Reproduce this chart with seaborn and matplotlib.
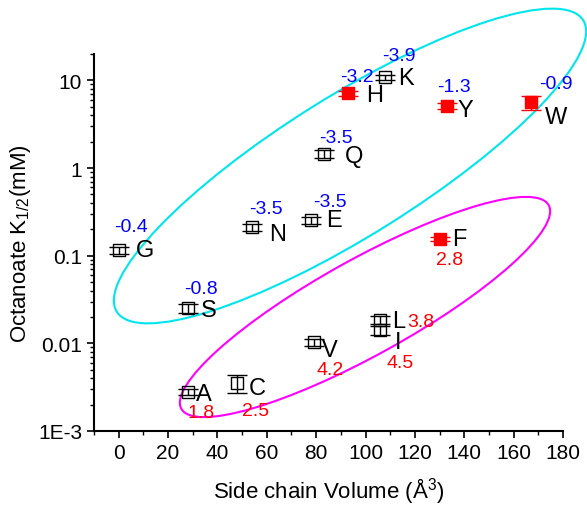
import numpy as np
import pandas as pd
import seaborn as sns
import matplotlib.pyplot as plt
import matplotlib.transforms as mtransforms
from matplotlib.patches import Ellipse
from matplotlib.ticker import MultipleLocator, LogLocator, NullFormatter

# amino acid side chains: volume vs octanoate K1/2, with hydropathy index
residues = ['G', 'A', 'S', 'C', 'N', 'E', 'Q', 'V', 'H', 'K', 'L', 'I', 'F', 'Y', 'W']
volume = [0, 28, 28, 48, 54, 78, 83, 79, 93, 108, 106, 106, 130, 133, 167]
k_half = [0.115, 0.0028, 0.025, 0.0035, 0.21, 0.255, 1.45, 0.0103, 7.1, 10.8,
          0.0185, 0.0142, 0.155, 5.1, 5.6]
k_err = [0.01, 0.0002, 0.003, 0.0008, 0.017, 0.024, 0.15, 0.001, 0.55, 0.8,
         0.002, 0.0016, 0.008, 0.4, 1.0]
hydropathy = ['-0.4', '1.8', '-0.8', '2.5', '-3.5', '-3.5', '-3.5', '4.2', '-3.2',
              '-3.9', '3.8', '4.5', '2.8', '-1.3', '-0.9']
filled = ['H', 'F', 'Y', 'W']

y_ticks = [1e-3, 0.01, 0.1, 1, 10]
y_tick_labels = ['1E-3', '0.01', '0.1', '1', '10']

# label offsets in pixels (dx, dy with y pointing down)
letter_off = {'G': (17, 0), 'A': (8, 2), 'S': (13, 2), 'C': (12, 5), 'N': (17, 7),
              'E': (15, 0), 'Q': (21, 2), 'V': (8, 8), 'H': (18, 2), 'K': (13, 1),
              'L': (12, 1), 'I': (15, 12), 'F': (13, 0), 'Y': (11, 4), 'W': (14, 15)}
hyd_off = {'G': (12, -24), 'A': (13, 21), 'S': (13, -20), 'C': (18, 27), 'N': (14, -19),
           'E': (19, -19), 'Q': (12, -16), 'V': (16, 27), 'H': (9, -17), 'K': (14, -22),
           'L': (40, 2), 'I': (20, 33), 'F': (10, 20), 'Y': (7, -20), 'W': (25, -19)}

df = pd.DataFrame({'res': residues, 'vol': volume, 'k': k_half, 'err': k_err,
                   'hyd': hydropathy})
df['filled'] = df['res'].isin(filled)

sns.set_style('ticks', {'axes.labelcolor': 'black', 'text.color': 'black',
                        'xtick.color': 'black', 'ytick.color': 'black',
                        'axes.edgecolor': 'black'})
plt.rcParams['font.family'] = ['Liberation Sans', 'DejaVu Sans']

W, H = 587, 506
fig = plt.figure(figsize=(W / 100, H / 100), dpi=100)
ax = fig.add_axes([94 / W, 1 - 432 / H, (563 - 94) / W, (432 - 55) / H])

ax.set_yscale('log')
ax.set_xlim(-10, 180)
ax.set_ylim(1e-3, 20)

open_df = df[~df['filled']]
red_df = df[df['filled']]

ax.errorbar(open_df['vol'], open_df['k'], yerr=open_df['err'], fmt='none',
            ecolor='black', elinewidth=1, capsize=7, capthick=1, zorder=3)
ax.errorbar(red_df['vol'], red_df['k'], yerr=red_df['err'], fmt='none',
            ecolor='red', elinewidth=1, capsize=7, capthick=1, zorder=3)

sns.scatterplot(data=open_df, x='vol', y='k', marker='s', s=75, color='black',
                linewidth=1, ax=ax, zorder=4)
ax.collections[-1].set_facecolor('none')
ax.collections[-1].set_edgecolor('black')
sns.scatterplot(data=red_df, x='vol', y='k', marker='s', s=80, color='red',
                edgecolor='red', linewidth=1, ax=ax, zorder=4)

for _, r in df.iterrows():
    dx, dy = letter_off[r['res']]
    ax.annotate(r['res'], (r['vol'], r['k']), xytext=(dx, -dy), textcoords='offset pixels',
                ha='left', va='center', fontsize=17, color='black', zorder=5)
    dx, dy = hyd_off[r['res']]
    col = 'red' if not r['hyd'].startswith('-') else 'blue'
    ax.annotate(r['hyd'], (r['vol'], r['k']), xytext=(dx, -dy), textcoords='offset pixels',
                ha='center', va='center', fontsize=14, color=col, zorder=5)

# grouping ellipses, drawn in pixel space of the figure
pix = mtransforms.Affine2D().scale(1 / W, -1 / H).translate(0, 1) + fig.transFigure
ax.add_patch(Ellipse((350, 167), 550, 140, angle=-32, fill=False, ec='#00E5EE',
                     lw=1.5, transform=pix, clip_on=False))
ax.add_patch(Ellipse((365, 308), 420, 96, angle=-29, fill=False, ec='#FF00FF',
                     lw=1.5, transform=pix, clip_on=False))

ax.set_xticks(np.arange(0, 181, 20))
ax.xaxis.set_minor_locator(MultipleLocator(10))
ax.set_yticks(y_ticks)
ax.set_yticklabels(y_tick_labels)
ax.yaxis.set_minor_locator(LogLocator(base=10, subs=np.arange(2, 10)))
ax.yaxis.set_minor_formatter(NullFormatter())
ax.tick_params(which='major', direction='out', length=5, width=1.2, labelsize=15,
               color='black', labelcolor='black')
ax.tick_params(which='minor', direction='out', length=3, width=1, color='black')

sns.despine(ax=ax)
for s in ['left', 'bottom']:
    ax.spines[s].set_linewidth(1.5)
    ax.spines[s].set_color('black')

ax.set_xlabel('Side chain Volume (Å$\\mathregular{^3}$)', fontsize=16, labelpad=10,
              color='black')
ax.set_ylabel('Octanoate K$\\mathregular{_{1/2}}$(mM)', fontsize=16, labelpad=4,
              color='black')

fig.savefig('out.png', dpi=100)
